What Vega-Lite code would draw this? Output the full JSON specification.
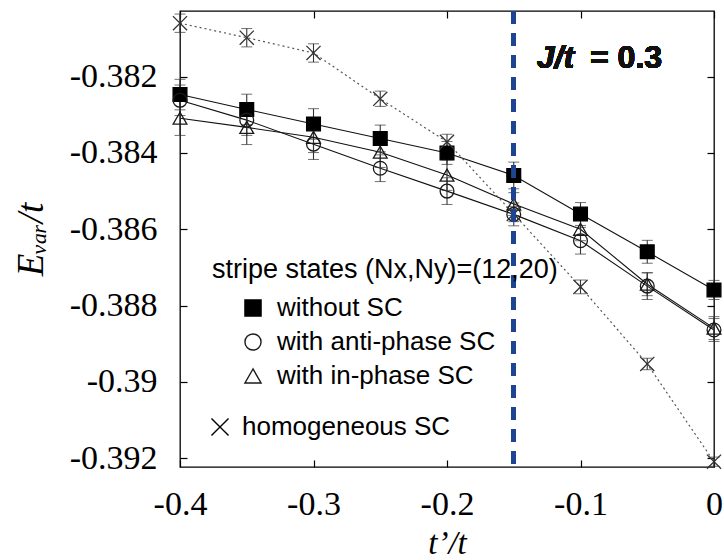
{
  "$schema": "https://vega.github.io/schema/vega-lite/v6.json",
  "width": 534,
  "height": 456,
  "autosize": {"type": "none"},
  "padding": {"left": 180, "top": 11, "right": 10, "bottom": 93},
  "background": "white",
  "config": {
    "view": {"stroke": "#000", "strokeWidth": 1.3},
    "scale": {"continuousPadding": 0},
    "axis": {
      "labelFont": "Liberation Serif", "labelFontSize": 34, "labelColor": "#000", "labelFlush": false,
      "titleFont": "Liberation Serif", "titleFontStyle": "italic", "titleFontWeight": "normal", "titleColor": "#000",
      "tickColor": "#000", "tickWidth": 1.2, "tickSize": -7, "domain": false, "grid": false
    }
  },
  "datasets": {
    "pts": [
      {"t": -0.4, "E": -0.38247, "err": 0.0004, "series": "without SC"},
      {"t": -0.35, "E": -0.38286, "err": 0.0004, "series": "without SC"},
      {"t": -0.3, "E": -0.38324, "err": 0.0004, "series": "without SC"},
      {"t": -0.25, "E": -0.38362, "err": 0.00035, "series": "without SC"},
      {"t": -0.2, "E": -0.384, "err": 0.0003, "series": "without SC"},
      {"t": -0.15, "E": -0.38459, "err": 0.00035, "series": "without SC"},
      {"t": -0.1, "E": -0.3856, "err": 0.0003, "series": "without SC"},
      {"t": -0.05, "E": -0.38659, "err": 0.0003, "series": "without SC"},
      {"t": 0, "E": -0.38759, "err": 0.00025, "series": "without SC"},
      {"t": -0.4, "E": -0.38262, "err": 0.0004, "series": "with anti-phase SC"},
      {"t": -0.35, "E": -0.38314, "err": 0.0004, "series": "with anti-phase SC"},
      {"t": -0.3, "E": -0.38377, "err": 0.0004, "series": "with anti-phase SC"},
      {"t": -0.25, "E": -0.3844, "err": 0.00035, "series": "with anti-phase SC"},
      {"t": -0.2, "E": -0.385, "err": 0.00035, "series": "with anti-phase SC"},
      {"t": -0.15, "E": -0.38561, "err": 0.0003, "series": "with anti-phase SC"},
      {"t": -0.1, "E": -0.3863, "err": 0.00035, "series": "with anti-phase SC"},
      {"t": -0.05, "E": -0.38749, "err": 0.00035, "series": "with anti-phase SC"},
      {"t": 0, "E": -0.38864, "err": 0.0003, "series": "with anti-phase SC"},
      {"t": -0.4, "E": -0.38309, "err": 0.00045, "series": "with in-phase SC"},
      {"t": -0.35, "E": -0.38333, "err": 0.00045, "series": "with in-phase SC"},
      {"t": -0.3, "E": -0.38359, "err": 0.0004, "series": "with in-phase SC"},
      {"t": -0.25, "E": -0.38398, "err": 0.0004, "series": "with in-phase SC"},
      {"t": -0.2, "E": -0.38458, "err": 0.0004, "series": "with in-phase SC"},
      {"t": -0.15, "E": -0.38534, "err": 0.0003, "series": "with in-phase SC"},
      {"t": -0.1, "E": -0.386, "err": 0.0003, "series": "with in-phase SC"},
      {"t": -0.05, "E": -0.38744, "err": 0.0003, "series": "with in-phase SC"},
      {"t": 0, "E": -0.38859, "err": 0.0003, "series": "with in-phase SC"},
      {"t": -0.4, "E": -0.3806, "err": 0.00024, "series": "homogeneous SC"},
      {"t": -0.35, "E": -0.38098, "err": 0.00024, "series": "homogeneous SC"},
      {"t": -0.3, "E": -0.38138, "err": 0.00024, "series": "homogeneous SC"},
      {"t": -0.25, "E": -0.38258, "err": 0.0002, "series": "homogeneous SC"},
      {"t": -0.2, "E": -0.38371, "err": 0.0002, "series": "homogeneous SC"},
      {"t": -0.15, "E": -0.3856, "err": 0.0002, "series": "homogeneous SC"},
      {"t": -0.1, "E": -0.38751, "err": 0.00018, "series": "homogeneous SC"},
      {"t": -0.05, "E": -0.38953, "err": 0.00015, "series": "homogeneous SC"},
      {"t": 0, "E": -0.39209, "err": 0.00012, "series": "homogeneous SC"}
    ]
  },
  "data": {"name": "pts"},
  "layer": [
    {
      "transform": [{"filter": "datum.series !== 'homogeneous SC'"}],
      "mark": {"type": "line", "color": "#111", "strokeWidth": 1.1},
      "encoding": {
        "x": {"field": "t", "type": "quantitative", "scale": {"domain": [-0.4, 0], "nice": false, "zero": false, "padding": 0},
          "axis": {"orient": "bottom", "values": [-0.4, -0.3, -0.2, -0.1, 0], "labelExpr": "(datum.value < 0 ? '-' : '') + format(abs(datum.value), '~g')", "labelPadding": 27, "title": "t’/t", "titleFontSize": 33, "titlePadding": 6}},
        "y": {"field": "E", "type": "quantitative", "scale": {"domain": [-0.39223, -0.38028], "nice": false, "zero": false, "padding": 0},
          "axis": {"orient": "left", "values": [-0.382, -0.384, -0.386, -0.388, -0.39, -0.392], "labelExpr": "(datum.value < 0 ? '-' : '') + format(abs(datum.value), '~g')", "labelPadding": 30, "title": "Eᵥₐᵣ/t", "titleFontSize": 37, "titlePadding": 19}},
        "detail": {"field": "series"}
      }
    },
    {
      "transform": [{"filter": "datum.series === 'homogeneous SC'"}],
      "mark": {"type": "line", "color": "#555", "strokeWidth": 1.2, "strokeDash": [2, 3]},
      "encoding": {
        "x": {"field": "t", "type": "quantitative", "axis": null},
        "y": {"field": "E", "type": "quantitative", "axis": null}
      }
    },
    {
      "mark": {"type": "errorbar", "color": "#333", "ticks": {"size": 11}, "rule": {"strokeWidth": 1.1}},
      "encoding": {
        "x": {"field": "t", "type": "quantitative", "axis": null},
        "y": {"field": "E", "type": "quantitative", "axis": null},
        "yError": {"field": "err"},
        "detail": {"field": "series"}
      }
    },
    {
      "transform": [{"filter": "datum.series !== 'homogeneous SC'"}],
      "mark": {"type": "point", "strokeWidth": 1.3, "size": 190, "opacity": 1},
      "encoding": {
        "x": {"field": "t", "type": "quantitative", "axis": null},
        "y": {"field": "E", "type": "quantitative", "axis": null},
        "shape": {"field": "series", "type": "nominal",
          "scale": {"domain": ["without SC", "with anti-phase SC", "with in-phase SC"], "range": ["square", "circle", "triangle-up"]},
          "legend": {"title": "stripe states (Nx,Ny)=(12,20)", "orient": "none", "legendX": 32, "legendY": 246,
            "titleFont": "Liberation Sans", "titleFontSize": 27, "titleFontWeight": "normal", "titleColor": "#000", "titleLimit": 0, "titlePadding": 11,
            "labelFont": "Liberation Sans", "labelFontSize": 26, "labelColor": "#000", "labelLimit": 0, "labelOffset": 11,
            "symbolSize": 260, "symbolStrokeWidth": 1.4, "symbolOffset": 28, "rowPadding": 8}},
        "fill": {"field": "series", "type": "nominal",
          "scale": {"domain": ["without SC", "with anti-phase SC", "with in-phase SC"], "range": ["#000", "rgba(0,0,0,0)", "rgba(0,0,0,0)"]},
          "legend": {"title": "stripe states (Nx,Ny)=(12,20)", "orient": "none", "legendX": 32, "legendY": 246,
            "titleFont": "Liberation Sans", "titleFontSize": 27, "titleFontWeight": "normal", "titleColor": "#000", "titleLimit": 0, "titlePadding": 11,
            "labelFont": "Liberation Sans", "labelFontSize": 26, "labelColor": "#000", "labelLimit": 0, "labelOffset": 11,
            "symbolSize": 260, "symbolStrokeWidth": 1.4, "symbolOffset": 28, "rowPadding": 8}},
        "stroke": {"field": "series", "type": "nominal",
          "scale": {"domain": ["without SC", "with anti-phase SC", "with in-phase SC"], "range": ["#000", "#1a1a1a", "#1a1a1a"]},
          "legend": {"title": "stripe states (Nx,Ny)=(12,20)", "orient": "none", "legendX": 32, "legendY": 246,
            "titleFont": "Liberation Sans", "titleFontSize": 27, "titleFontWeight": "normal", "titleColor": "#000", "titleLimit": 0, "titlePadding": 11,
            "labelFont": "Liberation Sans", "labelFontSize": 26, "labelColor": "#000", "labelLimit": 0, "labelOffset": 11,
            "symbolSize": 260, "symbolStrokeWidth": 1.4, "symbolOffset": 28, "rowPadding": 8}}
      }
    },
    {
      "transform": [{"filter": "datum.series === 'homogeneous SC'"}],
      "mark": {"type": "point", "stroke": "#333", "strokeWidth": 1.3, "size": 200, "opacity": 1},
      "encoding": {
        "x": {"field": "t", "type": "quantitative",
          "axis": {"orient": "top", "values": [-0.4, -0.3, -0.2, -0.1, 0], "labels": false, "title": null}},
        "y": {"field": "E", "type": "quantitative",
          "axis": {"orient": "right", "values": [-0.382, -0.384, -0.386, -0.388, -0.39, -0.392], "labels": false, "title": null}},
        "shape": {"field": "series", "type": "nominal",
          "scale": {"domain": ["homogeneous SC"], "range": ["M-1,-1L1,1M-1,1L1,-1"]},
          "legend": {"title": null, "orient": "none", "legendX": 27, "legendY": 403,
            "labelFont": "Liberation Sans", "labelFontSize": 26, "labelColor": "#000", "labelLimit": 0, "labelOffset": 9,
            "symbolSize": 290, "symbolStrokeWidth": 1.4, "symbolStrokeColor": "#000"}}
      }
    },
    {
      "mark": {"type": "rule", "color": "#1d4591", "strokeWidth": 4, "strokeDash": [13, 9]},
      "encoding": {"x": {"datum": -0.15, "type": "quantitative", "axis": null}}
    },
    {
      "mark": {"type": "text", "text": "J/t", "font": "Liberation Sans", "fontSize": 32, "fontWeight": "bold", "fontStyle": "italic", "align": "left", "baseline": "alphabetic", "color": "#111"},
      "encoding": {
        "x": {"datum": -0.13281, "type": "quantitative", "axis": null},
        "y": {"datum": -0.38178, "type": "quantitative", "axis": null}
      }
    },
    {
      "mark": {"type": "text", "text": "= 0.3", "font": "Liberation Sans", "fontSize": 32, "fontWeight": "bold", "align": "left", "baseline": "alphabetic", "color": "#111"},
      "encoding": {
        "x": {"datum": -0.09288, "type": "quantitative", "axis": null},
        "y": {"datum": -0.38178, "type": "quantitative", "axis": null}
      }
    }
  ],
  "resolve": {"scale": {"shape": "independent", "fill": "independent", "stroke": "independent"}, "axis": {"x": "independent", "y": "independent"}}
}
